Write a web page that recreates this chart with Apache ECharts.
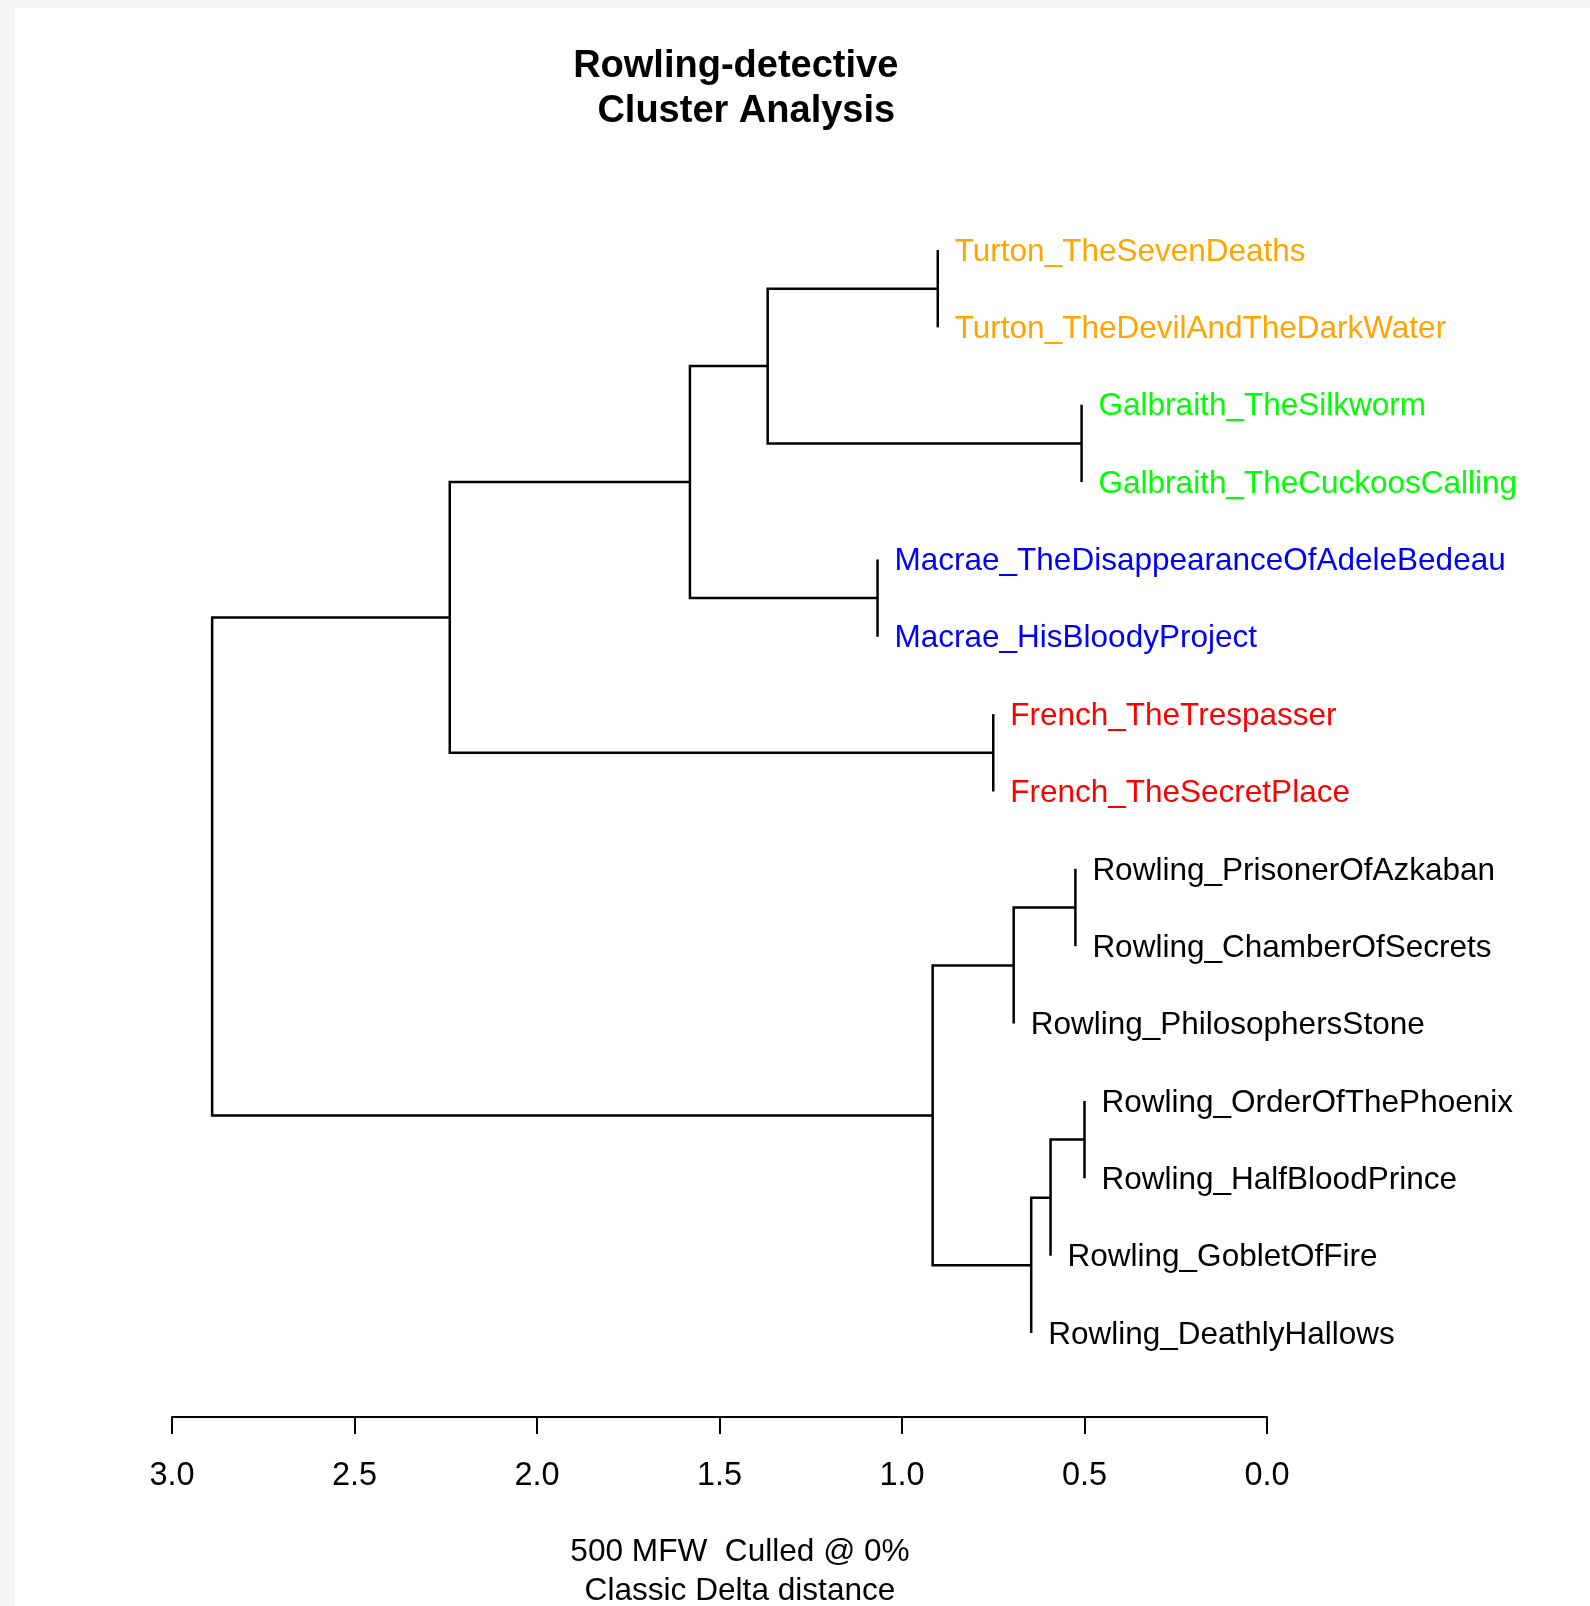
<!DOCTYPE html>
<html>
<head>
<meta charset="utf-8">
<script src="https://cdn.jsdelivr.net/npm/echarts@6/dist/echarts.min.js"></script>
<style>
  html, body { margin: 0; padding: 0; background: #f5f5f5; width: 1590px; height: 1606px; overflow: hidden; }
  #chart { position: absolute; left: 15px; top: 8px; width: 1575px; height: 1598px; background: #ffffff; }
</style>
</head>
<body>
<div id="chart"></div>
<script>
// ---- data ----
const leafNames = [
  'Turton_TheSevenDeaths',
  'Turton_TheDevilAndTheDarkWater',
  'Galbraith_TheSilkworm',
  'Galbraith_TheCuckoosCalling',
  'Macrae_TheDisappearanceOfAdeleBedeau',
  'Macrae_HisBloodyProject',
  'French_TheTrespasser',
  'French_TheSecretPlace',
  'Rowling_PrisonerOfAzkaban',
  'Rowling_ChamberOfSecrets',
  'Rowling_PhilosophersStone',
  'Rowling_OrderOfThePhoenix',
  'Rowling_HalfBloodPrince',
  'Rowling_GobletOfFire',
  'Rowling_DeathlyHallows'
];
const leafColors = [
  '#FFA500', '#FFA500',
  '#00FF00', '#00FF00',
  '#0000FF', '#0000FF',
  '#FF0000', '#FF0000',
  '#000000', '#000000', '#000000', '#000000', '#000000', '#000000', '#000000'
];
// hclust-style merges: negative = leaf (1-based), positive = earlier merge (1-based)
const merges = [
  [-12, -13], [-3, -4], [-9, -10], [1, -14], [4, -15], [3, -11], [-7, -8],
  [-1, -2], [6, 5], [-5, -6], [8, 2], [11, 10], [12, 7], [13, 9]
];
const mergeHeights = [
  0.500, 0.508, 0.525, 0.593, 0.646, 0.694, 0.750,
  0.902, 0.916, 1.067, 1.368, 1.581, 2.239, 2.890
];
const tickValues = [0, 0.5, 1, 1.5, 2, 2.5, 3];
const tickLabels = ['0.0', '0.5', '1.0', '1.5', '2.0', '2.5', '3.0'];

// ---- build tree geometry in data units ----
const mergeY = [];
const leafX = new Array(leafNames.length).fill(0);
function childY(c) { return c < 0 ? (-c - 1) : mergeY[c - 1]; }
merges.forEach((m, i) => {
  mergeY[i] = (childY(m[0]) + childY(m[1])) / 2;
  m.forEach(c => { if (c < 0) leafX[-c - 1] = mergeHeights[i]; });
});
const branchData = merges.map((m, i) => {
  const h = mergeHeights[i];
  const xa = m[0] < 0 ? h : mergeHeights[m[0] - 1];
  const xb = m[1] < 0 ? h : mergeHeights[m[1] - 1];
  return [h, childY(m[0]), childY(m[1]), xa, xb];
});
const labelData = leafNames.map((n, i) => [leafX[i], i, i]);

const FONT = '"Liberation Sans", Arial, Helvetica, sans-serif';

const chart = echarts.init(document.getElementById('chart'), null, { renderer: 'canvas' });
chart.setOption({
  animation: false,
  backgroundColor: '#ffffff',
  title: [
    {
      text: 'Rowling-detective \n Cluster Analysis',
      left: 726, top: 36, textAlign: 'center', padding: 0,
      textStyle: { fontFamily: FONT, fontSize: 38, fontWeight: 'bold', color: '#000', lineHeight: 45 }
    },
    {
      text: '500 MFW  Culled @ 0%\nClassic Delta distance',
      left: 725, top: 1525, textAlign: 'center', padding: 0,
      textStyle: { fontFamily: FONT, fontSize: 31.6, fontWeight: 'normal', color: '#000', lineHeight: 39 }
    }
  ],
  grid: { left: 157, right: 323, top: 242, bottom: 273, containLabel: false },
  xAxis: {
    type: 'value', min: 0, max: 3, interval: 0.5, inverse: true,
    position: 'bottom',
    offset: 84,
    axisLine: { show: true, onZero: false, lineStyle: { color: '#000', width: 2 } },
    axisTick: { show: true, length: 17, lineStyle: { color: '#000', width: 2 } },
    axisLabel: {
      margin: 43, color: '#000', fontFamily: FONT, fontSize: 32.5,
      formatter: v => { const k = tickValues.findIndex(t => Math.abs(t - v) < 1e-9); return k >= 0 ? tickLabels[k] : ''; }
    },
    splitLine: { show: false }
  },
  yAxis: { type: 'value', min: 0, max: 14, inverse: true, show: false },
  series: [
    {
      type: 'custom',
      clip: false,
      silent: true,
      encode: { x: [0, 3, 4], y: [1, 2] },
      data: branchData,
      renderItem: (params, api) => {
        const h = api.value(0), ya = api.value(1), yb = api.value(2), xa = api.value(3), xb = api.value(4);
        const pts = [api.coord([xa, ya]), api.coord([h, ya]), api.coord([h, yb]), api.coord([xb, yb])];
        return {
          type: 'polyline',
          shape: { points: pts },
          style: { stroke: '#000', lineWidth: 2.5, fill: null, lineJoin: 'miter', lineCap: 'butt' }
        };
      }
    },
    {
      type: 'custom',
      clip: false,
      silent: true,
      encode: { x: 0, y: 1 },
      data: labelData,
      renderItem: (params, api) => {
        const c = api.coord([api.value(0), api.value(1)]);
        const idx = api.value(2);
        return {
          type: 'text',
          x: c[0] + 17, y: c[1] + 2,
          style: {
            text: leafNames[idx], fill: leafColors[idx],
            font: '31.5px ' + FONT,
            align: 'left', verticalAlign: 'middle',
            textAlign: 'left', textVerticalAlign: 'middle'
          }
        };
      }
    }
  ]
});
</script>
</body>
</html>
